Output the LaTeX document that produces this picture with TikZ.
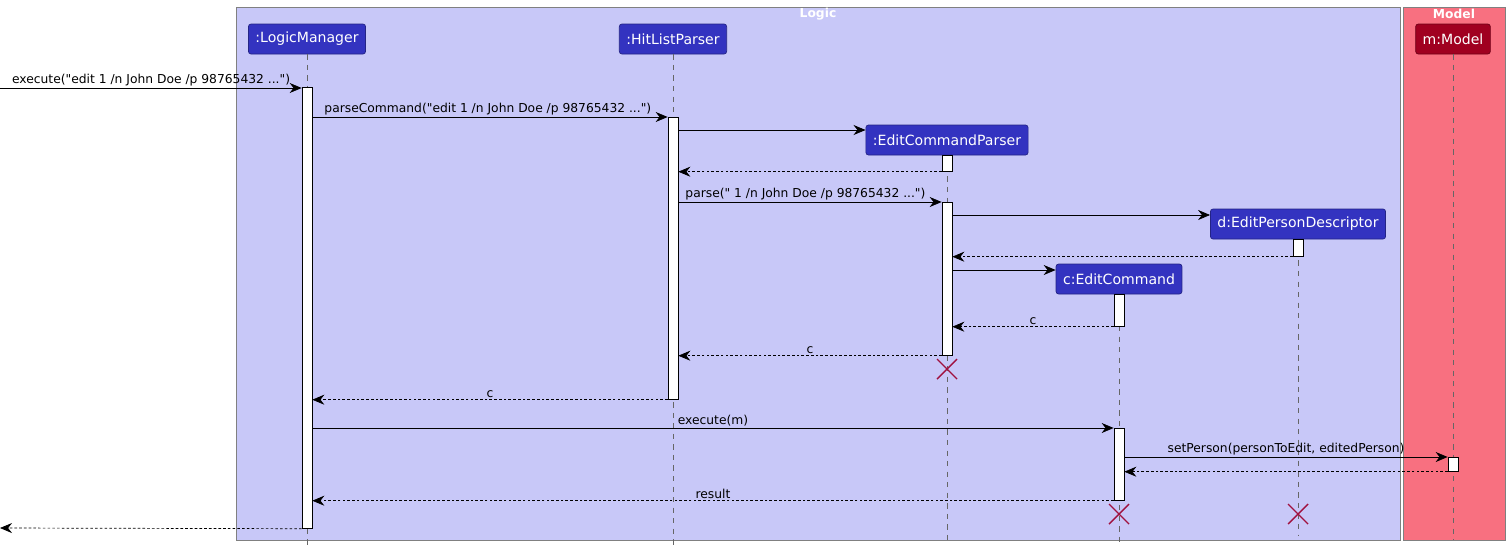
\documentclass[tikz,border=0pt]{standalone}
\usepackage{fontspec}
\setmainfont{DejaVu Sans}[Ligatures=TeXOff]
\usetikzlibrary{arrows.meta, positioning}

\definecolor{logicBg}{HTML}{C8C8F8}
\definecolor{modelBg}{HTML}{F87080}
\definecolor{partBlue}{HTML}{3333C0}
\definecolor{partRed}{HTML}{A00020}
\definecolor{killRed}{HTML}{A0103F}

\begin{document}
\begin{tikzpicture}[
    x=0.02cm, y=-0.02cm,
    >={Stealth[length=2.4mm, width=2mm]},
    part/.style={draw=partBlue!70!black, fill=partBlue, rounded corners=1.5pt, text=white,
        font=\fontsize{8}{10}\selectfont, minimum height=0.6cm, inner xsep=4pt},
    act/.style={draw=black, fill=white, minimum width=0.2cm, inner sep=0pt, anchor=north},
    life/.style={draw=gray!80!black, dash pattern=on 3pt off 3pt, thin},
    msg/.style={->, thin},
    ret/.style={->, thin, dash pattern=on 1.5pt off 1.2pt},
    lbl/.style={font=\fontsize{7}{9}\selectfont, inner sep=1pt},
    lbll/.style={lbl, anchor=south west, pos=0, xshift=0.2cm},
    kill/.style={draw=killRed, thick},
]
\useasboundingbox (0,0) rectangle (1509,552);

% Frames
\draw[fill=logicBg, draw=gray] (236,7) rectangle (1400,540);
\node[text=white, font=\bfseries\fontsize{7}{8}\selectfont] (logicTitle) at (818,14) {Logic};
\draw[fill=modelBg, draw=gray] (1403,7) rectangle (1505,540);
\node[text=white, font=\bfseries\fontsize{7}{8}\selectfont] (modelTitle) at (1454,14) {Model};

% Participants
\node[part] (lm) at (307,39) {:LogicManager};
\node[part] (hlp) at (673,39) {:HitListParser};
\node[part] (ecp) at (947,140) {:EditCommandParser};
\node[part] (epd) at (1298,224) {d:EditPersonDescriptor};
\node[part] (ec) at (1119,279) {c:EditCommand};
\node[part, fill=partRed, draw=partRed!70!black] (mdl) at (1453,39) {m:Model};

% Lifelines
\foreach \p/\e in {lm/545, hlp/545, ecp/545, epd/535, ec/545, mdl/540}
    \draw[life] (\p.south) -- (\p.south |- 0,\e);

% Activations
\newcommand{\actbar}[4]{\node[act, minimum height={0.02cm*(#4-#3)}] (#1) at (#2,#3) {};}
\actbar{lmA}{307}{87}{528}
\actbar{hlpA}{673}{117}{399}
\actbar{ecpA}{947}{155}{171}
\actbar{ecpB}{947}{202}{355}
\actbar{epdA}{1298}{239}{256}
\actbar{ecA}{1119}{294}{326}
\actbar{ecB}{1119}{428}{500}
\actbar{mdlA}{1453}{457}{471}

\coordinate (inStart) at (0,88);
\coordinate (outEnd) at (0,528);

% Messages
\draw[msg] (inStart) -- (lmA.north west |- inStart)
    node[lbll] {execute("edit 1 /n John Doe /p 98765432 ...")};
\draw[msg] (lmA.east |- 0,117) -- (hlpA.north west)
    node[lbll] {parseCommand("edit 1 /n John Doe /p 98765432 ...")};
\draw[msg] (hlpA.east |- 0,130) -- (ecp.west |- 0,130);
\draw[ret] (ecpA.south west) -- (hlpA.east |- ecpA.south);
\draw[msg] (hlpA.east |- ecpB.north) -- (ecpB.north west)
    node[lbll, xshift=-0.1cm] {parse(" 1 /n John Doe /p 98765432 ...")};
\draw[msg] (ecpB.east |- 0,215) -- (epd.west |- 0,215);
\draw[ret] (epdA.south west) -- (ecpB.east |- epdA.south);
\draw[msg] (ecpB.east |- 0,270) -- (ec.west |- 0,270);
\draw[ret] (ecA.south west) -- (ecpB.east |- ecA.south)
    node[lbl, above, pos=0.5] {c};
\draw[ret] (ecpB.south west) -- (hlpA.east |- ecpB.south)
    node[lbl, above, pos=0.5] {c};
\draw[ret] (hlpA.south west) -- (lmA.east |- hlpA.south)
    node[lbl, above, pos=0.5] {c};
\draw[msg] (lmA.east |- ecB.north) -- (ecB.north west)
    node[lbl, above, pos=0.5] {execute(m)};
\draw[msg] (ecB.east |- mdlA.north) -- (mdlA.north west)
    node[lbl, above, pos=0.5] {setPerson(personToEdit, editedPerson)};
\draw[ret] (mdlA.south west) -- (ecB.east |- mdlA.south);
\draw[ret] (ecB.south west) -- (lmA.east |- ecB.south)
    node[lbl, above, pos=0.5] {result};
\draw[ret] (lmA.south west) -- (outEnd);

% Destroyed participants
\foreach \x/\y in {947/369, 1119/514, 1298/514}
    \draw[kill] (\x-10,\y-10) -- (\x+10,\y+10) (\x-10,\y+10) -- (\x+10,\y-10);

\end{tikzpicture}
\end{document}
